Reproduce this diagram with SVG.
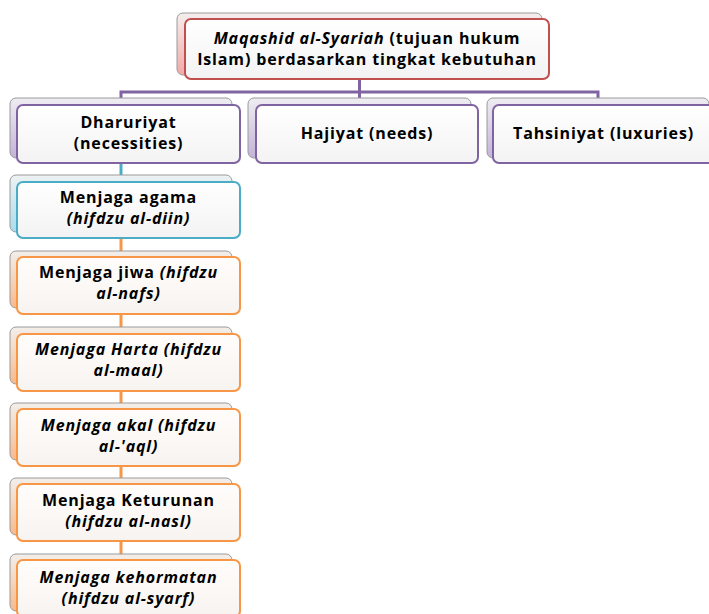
<svg xmlns="http://www.w3.org/2000/svg" width="709" height="614" viewBox="0 0 709 614">
<defs>
<linearGradient id="gRed" x1="0" y1="0" x2="0" y2="1"><stop offset="0" stop-color="#f4eeee"/><stop offset="1" stop-color="#f2a9a7"/></linearGradient>
<linearGradient id="gPur" x1="0" y1="0" x2="0" y2="1"><stop offset="0" stop-color="#efedf2"/><stop offset="1" stop-color="#c3b3d9"/></linearGradient>
<linearGradient id="gTeal" x1="0" y1="0" x2="0" y2="1"><stop offset="0" stop-color="#eef2f3"/><stop offset="1" stop-color="#a9dcec"/></linearGradient>
<linearGradient id="gOr" x1="0" y1="0" x2="0" y2="1"><stop offset="0" stop-color="#f3efeb"/><stop offset="1" stop-color="#f8b98a"/></linearGradient>
<linearGradient id="gFront" x1="0" y1="0" x2="0" y2="1"><stop offset="0" stop-color="#ffffff"/><stop offset="1" stop-color="#f3f3f4"/></linearGradient>
<linearGradient id="gFrontO" x1="0" y1="0" x2="0" y2="1"><stop offset="0" stop-color="#fffdfb"/><stop offset="1" stop-color="#f7f3f0"/></linearGradient>
</defs>
<style>
.back{stroke:#9a9a9a;stroke-width:1}
.front{stroke-width:2}
.red{stroke:#c0504d}
.pur{stroke:#8064a2}
.teal{stroke:#4bacc6}
.or{stroke:#f79646}
.conn{fill:none;stroke-width:3}
text{font-family:"Open Sans","Liberation Sans",sans-serif;font-weight:700;font-size:16px;letter-spacing:0.85px;fill:#000;text-anchor:middle}
.it{font-style:italic}
</style>
<rect width="709" height="614" fill="#ffffff"/>
<g id="connectors">
<path class="conn pur" d="M359.5,79 V92 M121,100 V92 H598 V98 M359.5,92 V98"/>
<path class="conn teal" d="M121,160 V176"/>
<path class="conn or" d="M121,238 V252 M121,314 V328 M121,390 V404 M121,465 V479 M121,541 V555"/>
</g>
<g id="node-top">
<rect class="back" x="177" y="13" width="365" height="62" rx="6" fill="url(#gRed)"/>
<rect class="front red" x="185" y="19" width="364" height="60" rx="6" fill="url(#gFront)"/>
<text x="367" y="44"><tspan class="it">Maqashid al-Syariah</tspan> (tujuan hukum</text>
<text x="367" y="65">Islam) berdasarkan tingkat kebutuhan</text>
</g>
<g id="node-dharuriyat">
<rect class="back" x="10" y="98" width="222" height="60" rx="6" fill="url(#gPur)"/>
<rect class="front pur" x="17" y="105" width="223" height="58" rx="6" fill="url(#gFront)"/>
<text x="128.5" y="128">Dharuriyat</text>
<text x="128.5" y="149">(necessities)</text>
</g>
<g id="node-hajiyat">
<rect class="back" x="248" y="98" width="223" height="60" rx="6" fill="url(#gPur)"/>
<rect class="front pur" x="256" y="105" width="222" height="58" rx="6" fill="url(#gFront)"/>
<text x="367" y="139">Hajiyat (needs)</text>
</g>
<g id="node-tahsiniyat">
<rect class="back" x="487" y="98" width="222" height="60" rx="6" fill="url(#gPur)"/>
<rect class="front pur" x="493" y="105" width="222" height="58" rx="6" fill="url(#gFront)"/>
<text x="603.5" y="139">Tahsiniyat (luxuries)</text>
</g>
<g id="node-agama">
<rect class="back" x="10" y="175" width="222" height="57" rx="6" fill="url(#gTeal)"/>
<rect class="front teal" x="17" y="182" width="223" height="56" rx="6" fill="url(#gFront)"/>
<text x="128.5" y="203">Menjaga agama</text>
<text x="128.5" y="224" class="it">(hifdzu al-diin)</text>
</g>
<g id="node-jiwa">
<rect class="back" x="10" y="251" width="222" height="57" rx="6" fill="url(#gOr)"/>
<rect class="front or" x="17" y="257" width="223" height="57" rx="6" fill="url(#gFrontO)"/>
<text x="128.5" y="278">Menjaga jiwa <tspan class="it">(hifdzu</tspan></text>
<text x="128.5" y="299" class="it">al-nafs)</text>
</g>
<g id="node-harta">
<rect class="back" x="10" y="327" width="222" height="57" rx="6" fill="url(#gOr)"/>
<rect class="front or" x="17" y="334" width="223" height="57" rx="6" fill="url(#gFrontO)"/>
<text x="128.5" y="355" class="it">Menjaga Harta (hifdzu</text>
<text x="128.5" y="376" class="it">al-maal)</text>
</g>
<g id="node-akal">
<rect class="back" x="10" y="403" width="222" height="57" rx="6" fill="url(#gOr)"/>
<rect class="front or" x="17" y="409" width="223" height="57" rx="6" fill="url(#gFrontO)"/>
<text x="128.5" y="431" class="it">Menjaga akal (hifdzu</text>
<text x="128.5" y="452" class="it">al-'aql)</text>
</g>
<g id="node-keturunan">
<rect class="back" x="10" y="478" width="222" height="57" rx="6" fill="url(#gOr)"/>
<rect class="front or" x="17" y="484" width="223" height="57" rx="6" fill="url(#gFrontO)"/>
<text x="128.5" y="506">Menjaga Keturunan</text>
<text x="128.5" y="527" class="it">(hifdzu al-nasl)</text>
</g>
<g id="node-kehormatan">
<rect class="back" x="10" y="554" width="222" height="57" rx="6" fill="url(#gOr)"/>
<rect class="front or" x="17" y="560" width="223" height="57" rx="6" fill="url(#gFrontO)"/>
<text x="128.5" y="583" class="it">Menjaga kehormatan</text>
<text x="128.5" y="604" class="it">(hifdzu al-syarf)</text>
</g>
</svg>
